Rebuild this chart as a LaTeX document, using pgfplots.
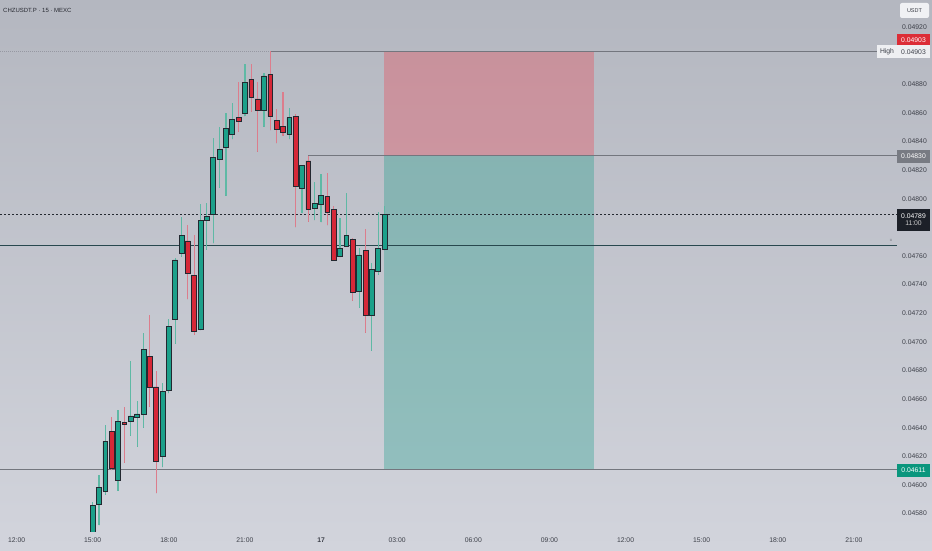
\documentclass[border=0pt]{standalone}
\usepackage{fontspec}
\setmainfont{Liberation Sans}
\usepackage{pgfplots}
\usepackage{pgfplotstable}
\pgfplotsset{compat=1.18}

\definecolor{bgtop}{RGB}{180,183,192}
\definecolor{bgbot}{RGB}{210,212,220}
\definecolor{cgreen}{RGB}{28,160,138}
\definecolor{cred}{RGB}{214,40,56}
\definecolor{cborder}{RGB}{35,40,48}
\definecolor{wgreen}{RGB}{95,185,165}
\definecolor{wred}{RGB}{220,125,140}
\definecolor{zred}{RGB}{242,54,69}
\definecolor{zgreen}{RGB}{8,153,129}
\definecolor{lgray}{RGB}{115,118,126}
\definecolor{lteal}{RGB}{40,72,78}
\definecolor{txt}{RGB}{60,63,72}
\definecolor{boxw}{RGB}{238,239,242}
\definecolor{boxg}{RGB}{120,123,131}
\definecolor{boxk}{RGB}{28,32,40}
\definecolor{boxt}{RGB}{10,150,125}
\definecolor{boxr}{RGB}{220,45,55}

% t = hours after 12:00 (15-minute candles), open, high, low, close
\pgfplotstableread{
t o h l c
3.00 0.04562 0.045883 0.04558 0.045855
3.25 0.045867 0.046069 0.045718 0.045983
3.50 0.045958 0.046417 0.045930 0.046305
3.75 0.046372 0.046473 0.046104 0.046116
4.00 0.046034 0.046524 0.045960 0.046445
4.25 0.046438 0.046547 0.046155 0.046424
4.50 0.046445 0.046866 0.046342 0.046482
4.75 0.046473 0.046586 0.046267 0.046496
5.00 0.046496 0.047065 0.046400 0.046948
5.25 0.046896 0.047187 0.046547 0.046682
5.50 0.046685 0.046796 0.045941 0.046162
5.75 0.046197 0.046709 0.046125 0.046656
6.00 0.046663 0.047157 0.046640 0.047106
6.25 0.047157 0.047584 0.046985 0.047572
6.50 0.047619 0.047874 0.047595 0.047746
6.75 0.047705 0.047816 0.047297 0.047479
7.00 0.047465 0.047746 0.047050 0.047071
7.25 0.047087 0.047963 0.047080 0.047846
7.50 0.047846 0.047968 0.047642 0.047874
7.75 0.047893 0.048422 0.047688 0.048287
8.00 0.048275 0.048503 0.048077 0.048345
8.25 0.048357 0.048601 0.048019 0.048492
8.50 0.048452 0.048667 0.048417 0.048555
8.75 0.048569 0.048818 0.048468 0.048538
9.00 0.048597 0.048941 0.048578 0.048814
9.25 0.048835 0.048941 0.048608 0.048706
9.50 0.048697 0.048818 0.048329 0.048620
9.75 0.048620 0.048876 0.048503 0.048858
10.00 0.048868 0.049030 0.048480 0.048575
10.25 0.048545 0.048625 0.048387 0.048485
10.50 0.048503 0.048744 0.048440 0.048464
10.75 0.048452 0.048632 0.048417 0.048566
11.00 0.048576 0.048590 0.047800 0.048084
11.25 0.048073 0.048235 0.047898 0.048234
11.50 0.048264 0.048300 0.047839 0.047926
11.75 0.047933 0.048119 0.047851 0.047968
12.00 0.047958 0.048171 0.047835 0.048024
12.25 0.048017 0.048178 0.047816 0.047905
12.50 0.047926 0.047949 0.047565 0.047572
12.75 0.047595 0.047863 0.047590 0.047654
13.00 0.047670 0.048038 0.047665 0.047746
13.25 0.047716 0.047723 0.047287 0.047346
13.50 0.047350 0.047654 0.047238 0.047607
13.75 0.047637 0.047786 0.047064 0.047187
14.00 0.047187 0.047549 0.046938 0.047507
14.25 0.047495 0.047909 0.047467 0.047654
14.50 0.047647 0.047949 0.047640 0.047890
}\candles

\begin{document}
\begin{tikzpicture}
\fill[top color=bgtop, bottom color=bgbot] (0,-19pt) rectangle (932pt,531pt);

\begin{axis}[
  at={(0,0)}, anchor=south west, scale only axis,
  width=897pt, height=531pt,
  xmin=-0.654, xmax=34.70, ymin=0.0456778, ymax=0.0493887,
  axis line style={draw=none}, tick style={draw=none},
  ytick={0.0458,0.0460,0.0462,0.0464,0.0466,0.0468,0.0470,0.0472,0.0474,0.0476,0.0480,0.0482,0.0484,0.0486,0.0488,0.0492},
  yticklabels={0.04580,0.04600,0.04620,0.04640,0.04660,0.04680,0.04700,0.04720,0.04740,0.04760,0.04800,0.04820,0.04840,0.04860,0.04880,0.04920},
  yticklabel pos=right,
  xtick={0,3,6,9,12,15,18,21,24,27,30,33},
  xticklabels={12:00,15:00,18:00,21:00,\textbf{17},03:00,06:00,09:00,12:00,15:00,18:00,21:00},
  ticklabel style={font=\fontsize{6.8}{8}\selectfont, text=txt},
  yticklabel style={anchor=west, inner sep=0pt, xshift=5pt},
  xticklabel style={anchor=north, inner sep=0pt, yshift=-6.5pt},
]
% position tool zones
\addplot[fill=zred, fill opacity=0.3, draw=none] coordinates {(14.5,0.04830) (22.75,0.04830) (22.75,0.04903) (14.5,0.04903)} -- cycle;
\addplot[fill=zgreen, fill opacity=0.3, draw=none] coordinates {(14.5,0.04611) (22.75,0.04611) (22.75,0.04830) (14.5,0.04830)} -- cycle;
% horizontal levels
\addplot[color={rgb,255:red,150;green,152;blue,162}, line width=0.5pt, dash pattern=on 1pt off 1pt] coordinates {(-0.654,0.04903) (10,0.04903)};
\addplot[lgray, line width=1.2pt] coordinates {(10,0.04903) (34.7,0.04903)};
\addplot[lgray, line width=1.2pt] coordinates {(11.5,0.04830) (34.7,0.04830)};
\addplot[lgray, line width=1.2pt] coordinates {(-0.654,0.04611) (34.7,0.04611)};
\addplot[lteal, line width=0.8pt] coordinates {(-0.654,0.047677) (34.7,0.047677)};
\addplot[cborder, line width=0.9pt, dash pattern=on 1.5pt off 2.5pt] coordinates {(-0.654,0.04789) (34.7,0.04789)};
% wicks
\addplot[only marks, mark=*, mark size=0pt, mark options={draw=none, fill=none},
  error bars/.cd, y dir=plus, y explicit, error mark=none,
  error bar style={line width=1.2pt, draw=wgreen}]
  table[x=t, y=l, y error expr={\thisrow{c}>=\thisrow{o} ? \thisrow{h}-\thisrow{l} : 0}] {\candles};
\addplot[only marks, mark=*, mark size=0pt, mark options={draw=none, fill=none},
  error bars/.cd, y dir=plus, y explicit, error mark=none,
  error bar style={line width=1.2pt, draw=wred}]
  table[x=t, y=l, y error expr={\thisrow{c}<\thisrow{o} ? \thisrow{h}-\thisrow{l} : 0}] {\candles};
\end{axis}

\begin{axis}[
  at={(0,0)}, anchor=south west, scale only axis,
  width=897pt, height=531pt,
  xmin=-0.654, xmax=34.70, ymin=0.0456778, ymax=0.0493887,
  hide axis, xtick=\empty, ytick=\empty, ybar stacked, bar width=0.19,
]
\addplot[draw=none, fill=none] table[x=t, y expr={min(\thisrow{o},\thisrow{c})}] {\candles};
\addplot[fill=cgreen, draw=cborder, line width=0.7pt] table[x=t, y expr={max(\thisrow{c}-\thisrow{o},0)}] {\candles};
\addplot[fill=cred, draw=cborder, line width=0.7pt] table[x=t, y expr={max(\thisrow{o}-\thisrow{c},0)}] {\candles};
\end{axis}

% title and price-scale labels
\node[anchor=west, inner sep=0pt, font=\fontsize{6}{7}\selectfont, text={rgb,255:red,40;green,42;blue,50}] at (3pt,521pt) {CHZUSDT.P · 15 · MEXC};
\node[fill={rgb,255:red,240;green,241;blue,244}, rounded corners=2pt, minimum width=29pt, minimum height=15pt, inner sep=0pt, font=\fontsize{5.5}{6}\selectfont, text=txt] at (914.5pt,520.5pt) {USDT};
\tikzset{pbox/.style={minimum width=33pt, minimum height=13pt, inner sep=0pt, font=\fontsize{6.8}{8}\selectfont}}
\node[pbox, fill=boxr, text=white] at (913.5pt,490.5pt) {0.04903};
\node[pbox, fill=boxw, text=txt] at (913.5pt,479pt) {0.04903};
\node[pbox, minimum width=20pt, fill=boxw, text=txt] at (887pt,479pt) {High};
\node[pbox, fill=boxg, text=white] at (913.5pt,374.5pt) {0.04830};
\node[pbox, minimum height=22pt, fill=boxk, text=white, align=center] at (913.5pt,311.5pt) {0.04789\\[-1pt]{\color{white!80!black}11:00}};
\node[pbox, fill=boxt, text=white] at (913.5pt,61pt) {0.04611};
\node[inner sep=0pt, font=\fontsize{4}{4}\selectfont, text={rgb,255:red,110;green,112;blue,120}] at (891pt,291pt) {\textbf{=}};

\pgfresetboundingbox
\useasboundingbox (0,-19pt) rectangle (932pt,531pt);
\end{tikzpicture}
\end{document}
